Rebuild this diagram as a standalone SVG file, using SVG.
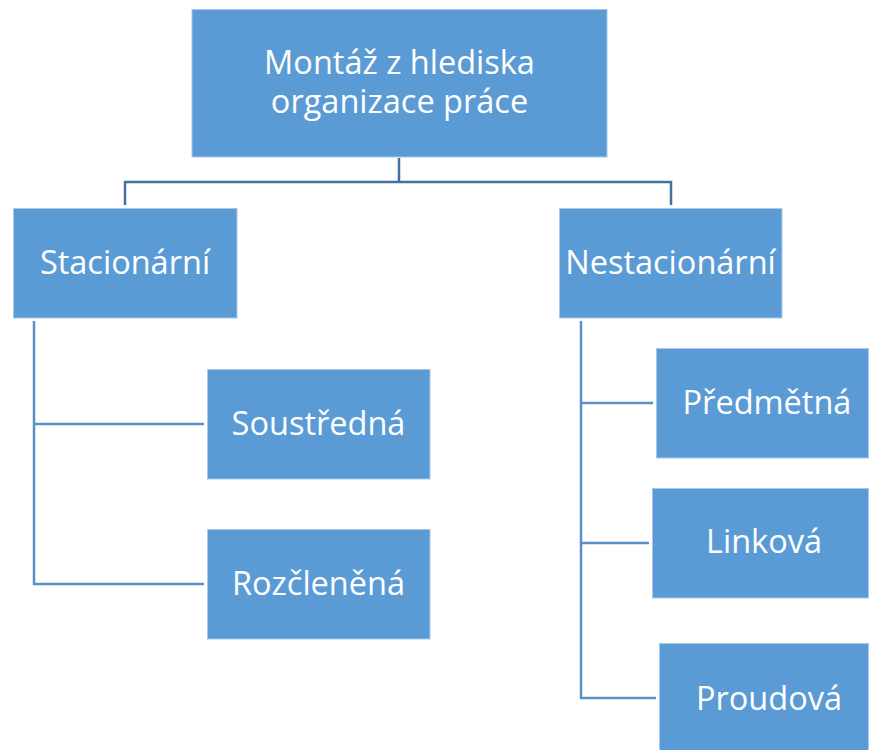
<svg xmlns="http://www.w3.org/2000/svg" width="869" height="750" viewBox="0 0 869 750">
  <style>
    .box { fill: #5B9BD5; stroke: #A9C8E8; stroke-width: 1; }
    .lbl { fill: #FFFFFF; font-family: "Open Sans", "Noto Sans", "Liberation Sans", sans-serif; font-size: 32.5px; text-anchor: middle; }
    .c1 { fill: none; stroke: #41719C; stroke-width: 2.5; }
    .c2 { fill: none; stroke: #5A8FC8; stroke-width: 2.5; }
  </style>
  <rect width="869" height="750" fill="#FFFFFF"/>
  <g id="connectors">
    <path class="c1" d="M399 158 V182 M125 205 V182 H671 V205"/>
    <path class="c2" d="M34 321 V584 H204 M34 424 H204"/>
    <path class="c2" d="M581 321 V698 H656 M581 403 H653 M581 543 H649"/>
  </g>
  <g id="root">
    <rect class="box" x="192" y="9.5" width="415" height="147.5"/>
    <text class="lbl" x="399.5" y="74">Montáž z hlediska</text>
    <text class="lbl" x="399.5" y="113">organizace práce</text>
  </g>
  <g id="stacionarni">
    <rect class="box" x="13.5" y="208.5" width="223.5" height="109.5"/>
    <text class="lbl" x="125" y="274">Stacionární</text>
  </g>
  <g id="nestacionarni">
    <rect class="box" x="559.5" y="208.5" width="222.5" height="109.5"/>
    <text class="lbl" x="670.5" y="274">Nestacionární</text>
  </g>
  <g id="soustredna">
    <rect class="box" x="207.5" y="369.5" width="222.5" height="109.5"/>
    <text class="lbl" x="318.5" y="435">Soustředná</text>
  </g>
  <g id="rozclenena">
    <rect class="box" x="207.5" y="529.5" width="222.5" height="109.5"/>
    <text class="lbl" x="318.5" y="595">Rozčleněná</text>
  </g>
  <g id="predmetna">
    <rect class="box" x="656.5" y="348.5" width="212" height="109.5"/>
    <text class="lbl" x="767" y="414">Předmětná</text>
  </g>
  <g id="linkova">
    <rect class="box" x="652.5" y="488.5" width="216" height="109.5"/>
    <text class="lbl" x="764" y="553">Linková</text>
  </g>
  <g id="proudova">
    <rect class="box" x="659.5" y="643.5" width="209" height="107"/>
    <text class="lbl" x="769" y="710">Proudová</text>
  </g>
</svg>
